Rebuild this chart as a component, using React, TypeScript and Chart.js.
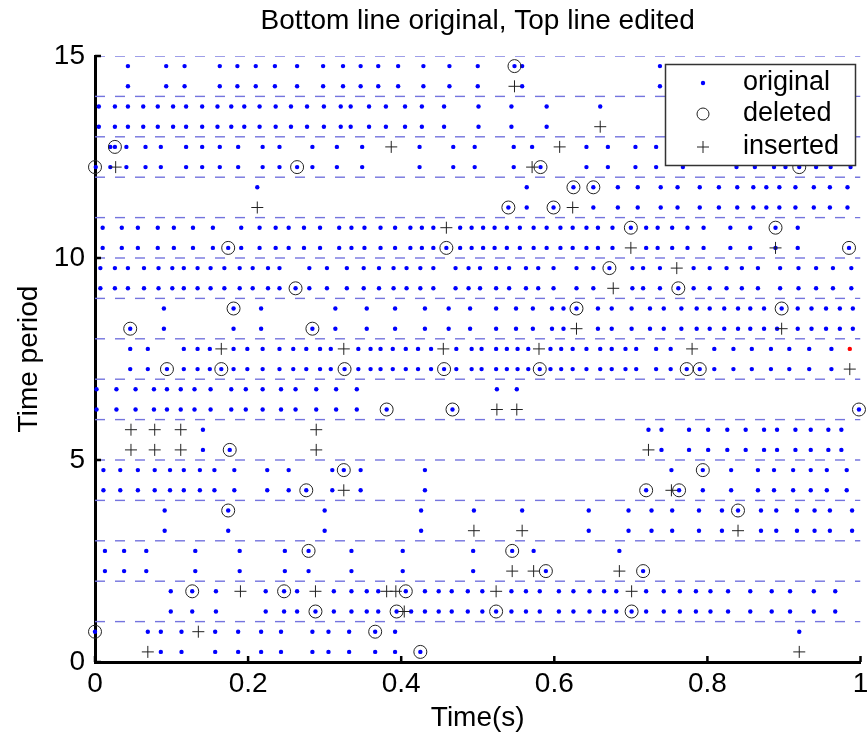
import React, { useEffect, useRef } from "react";
import { Chart, registerables } from "chart.js";

Chart.register(...registerables);

const FONT = "'Liberation Sans', Arial, Helvetica, sans-serif";

// ---- axes ----
const xTicks = [0, 0.2, 0.4, 0.6, 0.8, 1];
const xTickLabels = ["0", "0.2", "0.4", "0.6", "0.8", "1"];
const yTicks = [0, 5, 10, 15];
const yTickLabels = ["0", "5", "10", "15"];
const dashedLevels = [1, 2, 3, 4, 5, 6, 7, 8, 9, 10, 11, 12, 13, 14, 15];

// ---- original dots, one array per row (x in seconds) ----
const row1475 = [0.043,0.093,0.117,0.163,0.186,0.210,0.235,0.264,0.298,0.324,0.347,0.370,0.396,0.429,0.463,0.500,0.548,0.558,0.738];
const row1425 = [0.043,0.093,0.117,0.163,0.186,0.210,0.235,0.264,0.298,0.324,0.347,0.370,0.396,0.429,0.463,0.500,0.558,0.738];
const row1375 = [0.005,0.026,0.043,0.063,0.082,0.102,0.119,0.140,0.160,0.178,0.195,0.215,0.236,0.256,0.277,0.299,0.321,0.334,0.358,0.380,0.405,0.427,0.456,0.501,0.544,0.590,0.660];
const row1325 = [0.005,0.026,0.043,0.063,0.082,0.102,0.119,0.140,0.160,0.178,0.195,0.215,0.236,0.256,0.277,0.299,0.321,0.334,0.358,0.380,0.405,0.427,0.456,0.501,0.544,0.590];
const row1275 = [0.020,0.026,0.041,0.066,0.086,0.119,0.140,0.163,0.187,0.219,0.241,0.284,0.316,0.349,0.424,0.468,0.496,0.547,0.571,0.642,0.670,0.706,0.733];
const row1225 = [0.001,0.020,0.041,0.066,0.086,0.119,0.140,0.163,0.187,0.219,0.241,0.264,0.284,0.316,0.349,0.424,0.468,0.496,0.547,0.582,0.642,0.670,0.706,0.733,0.768,0.838,0.862,0.887,0.902,0.920,0.942,0.961,0.987];
const row1175 = [0.212,0.564,0.625,0.651,0.683,0.709,0.739,0.761,0.790,0.815,0.839,0.860,0.877,0.894,0.915,0.939,0.960,0.983];
const row1125 = [0.540,0.564,0.599,0.651,0.683,0.709,0.739,0.761,0.790,0.815,0.839,0.860,0.877,0.894,0.915,0.939,0.960,0.983];
const row1075 = [0.010,0.035,0.056,0.082,0.103,0.128,0.154,0.191,0.215,0.236,0.253,0.273,0.294,0.319,0.335,0.352,0.373,0.392,0.412,0.427,0.442,0.477,0.492,0.507,0.522,0.538,0.555,0.573,0.590,0.608,0.624,0.642,0.657,0.676,0.700,0.720,0.735,0.754,0.774,0.795,0.830,0.856,0.889,0.918];
const row1025 = [0.010,0.035,0.056,0.082,0.103,0.128,0.154,0.174,0.191,0.215,0.236,0.253,0.273,0.294,0.319,0.335,0.352,0.373,0.392,0.412,0.427,0.442,0.459,0.477,0.492,0.507,0.522,0.538,0.555,0.573,0.590,0.608,0.624,0.642,0.657,0.676,0.720,0.735,0.754,0.774,0.795,0.830,0.856,0.889,0.918,0.985];
const row975 = [0.007,0.026,0.043,0.064,0.083,0.101,0.116,0.134,0.151,0.169,0.189,0.206,0.226,0.241,0.280,0.303,0.329,0.351,0.371,0.390,0.407,0.425,0.442,0.471,0.488,0.503,0.524,0.541,0.563,0.579,0.599,0.629,0.651,0.672,0.702,0.716,0.738,0.782,0.803,0.825,0.845,0.866,0.895,0.919,0.942,0.964,0.988];
const row925 = [0.007,0.026,0.043,0.064,0.083,0.101,0.116,0.134,0.151,0.169,0.189,0.206,0.226,0.241,0.262,0.280,0.303,0.329,0.351,0.371,0.390,0.407,0.425,0.442,0.471,0.488,0.503,0.524,0.541,0.563,0.579,0.599,0.629,0.651,0.702,0.716,0.738,0.762,0.782,0.803,0.825,0.845,0.866,0.895,0.919,0.942,0.964,0.988];
const row875 = [0.090,0.181,0.217,0.314,0.355,0.392,0.431,0.462,0.490,0.524,0.550,0.572,0.597,0.612,0.629,0.657,0.675,0.701,0.725,0.743,0.766,0.786,0.803,0.822,0.840,0.856,0.874,0.897,0.918,0.936,0.955,0.973,0.990];
const row825 = [0.046,0.090,0.181,0.217,0.284,0.314,0.355,0.392,0.431,0.462,0.490,0.524,0.550,0.572,0.597,0.612,0.657,0.675,0.701,0.725,0.743,0.766,0.786,0.803,0.822,0.840,0.856,0.874,0.891,0.918,0.936,0.955,0.973,0.990];
const row775 = [0.046,0.069,0.116,0.134,0.150,0.181,0.199,0.219,0.241,0.259,0.276,0.294,0.308,0.344,0.360,0.373,0.389,0.406,0.422,0.439,0.472,0.492,0.505,0.524,0.538,0.552,0.566,0.595,0.609,0.624,0.642,0.660,0.675,0.693,0.707,0.733,0.752,0.809,0.834,0.858,0.883,0.907,0.933,0.962];
const row725 = [0.046,0.069,0.094,0.116,0.134,0.150,0.165,0.181,0.199,0.219,0.241,0.259,0.276,0.294,0.308,0.326,0.344,0.360,0.373,0.389,0.406,0.422,0.439,0.456,0.472,0.492,0.505,0.524,0.538,0.552,0.566,0.581,0.595,0.609,0.624,0.642,0.660,0.675,0.693,0.707,0.733,0.752,0.773,0.790,0.809,0.834,0.858,0.883,0.907,0.933,0.962];
const row675 = [0.002,0.028,0.053,0.077,0.094,0.112,0.130,0.151,0.178,0.197,0.219,0.243,0.262,0.289,0.315,0.342,0.525,0.551];
const row625 = [0.002,0.028,0.053,0.077,0.094,0.112,0.130,0.151,0.178,0.197,0.219,0.243,0.262,0.289,0.315,0.342,0.381,0.467,0.998];
const row575 = [0.141,0.723,0.740,0.776,0.801,0.826,0.850,0.874,0.891,0.915,0.935,0.958,0.975];
const row525 = [0.141,0.176,0.740,0.776,0.801,0.826,0.850,0.874,0.891,0.915,0.935,0.958,0.975];
const row475 = [0.011,0.033,0.056,0.078,0.098,0.116,0.137,0.156,0.182,0.225,0.253,0.310,0.325,0.347,0.431,0.753,0.794,0.831,0.866,0.887,0.912,0.935,0.956,0.982];
const row425 = [0.011,0.033,0.056,0.078,0.098,0.116,0.137,0.156,0.182,0.225,0.253,0.276,0.310,0.347,0.431,0.720,0.763,0.794,0.831,0.866,0.887,0.912,0.935,0.956,0.982];
const row375 = [0.091,0.174,0.300,0.426,0.495,0.558,0.645,0.697,0.727,0.754,0.789,0.819,0.840,0.870,0.890,0.917,0.940,0.960,0.989];
const row325 = [0.091,0.174,0.300,0.426,0.645,0.697,0.727,0.754,0.789,0.819,0.870,0.890,0.917,0.940,0.960,0.989];
const row275 = [0.013,0.038,0.067,0.131,0.189,0.248,0.279,0.335,0.402,0.494,0.545,0.573,0.685];
const row225 = [0.013,0.038,0.067,0.131,0.189,0.248,0.279,0.335,0.402,0.494,0.589,0.716];
const row175 = [0.099,0.127,0.158,0.223,0.247,0.264,0.312,0.335,0.355,0.370,0.406,0.431,0.449,0.466,0.487,0.506,0.544,0.563,0.581,0.606,0.625,0.646,0.665,0.681,0.720,0.743,0.764,0.785,0.804,0.827,0.856,0.884,0.908,0.939,0.967];
const row125 = [0.099,0.127,0.158,0.223,0.247,0.264,0.288,0.312,0.335,0.355,0.370,0.394,0.413,0.431,0.449,0.466,0.487,0.506,0.524,0.544,0.563,0.581,0.606,0.625,0.646,0.665,0.681,0.701,0.720,0.743,0.764,0.785,0.804,0.827,0.856,0.884,0.908,0.939,0.967];
const row075 = [0.000,0.069,0.086,0.113,0.157,0.187,0.217,0.243,0.284,0.305,0.332,0.366,0.392,0.920];
const row025 = [0.086,0.113,0.157,0.187,0.217,0.243,0.284,0.305,0.332,0.366,0.392,0.425];

const rowLevels = [14.75,14.25,13.75,13.25,12.75,12.25,11.75,11.25,10.75,10.25,9.75,9.25,8.75,8.25,7.75,7.25,6.75,6.25,5.75,5.25,4.75,4.25,3.75,3.25,2.75,2.25,1.75,1.25,0.75,0.25];
const rowValues = [row1475,row1425,row1375,row1325,row1275,row1225,row1175,row1125,row1075,row1025,row975,row925,row875,row825,row775,row725,row675,row625,row575,row525,row475,row425,row375,row325,row275,row225,row175,row125,row075,row025];

// ---- deleted (circles) and inserted (plus) markers: [time, period] ----
const deletedPts: [number, number][] = [
  [0.548,14.75],[0.026,12.75],[0,12.25],[0.264,12.25],[0.582,12.25],[0.920,12.25],
  [0.625,11.75],[0.651,11.75],[0.540,11.25],[0.599,11.25],[0.700,10.75],[0.889,10.75],
  [0.174,10.25],[0.459,10.25],[0.985,10.25],[0.672,9.75],[0.262,9.25],[0.762,9.25],
  [0.181,8.75],[0.629,8.75],[0.897,8.75],[0.046,8.25],[0.284,8.25],
  [0.094,7.25],[0.165,7.25],[0.326,7.25],[0.456,7.25],[0.581,7.25],[0.773,7.25],[0.790,7.25],
  [0.381,6.25],[0.467,6.25],[0.998,6.25],[0.176,5.25],[0.325,4.75],[0.794,4.75],
  [0.276,4.25],[0.720,4.25],[0.763,4.25],[0.174,3.75],[0.840,3.75],[0.279,2.75],[0.545,2.75],
  [0.589,2.25],[0.716,2.25],[0.127,1.75],[0.247,1.75],[0.406,1.75],
  [0.288,1.25],[0.394,1.25],[0.524,1.25],[0.701,1.25],[0,0.75],[0.366,0.75],[0.425,0.25],
];
const insertedPts: [number, number][] = [
  [0.548,14.25],[0.660,13.25],[0.387,12.75],[0.607,12.75],[0.027,12.25],[0.571,12.25],
  [0.212,11.25],[0.624,11.25],[0.459,10.75],[0.700,10.25],[0.889,10.25],[0.760,9.75],[0.677,9.25],
  [0.629,8.25],[0.897,8.25],[0.165,7.75],[0.325,7.75],[0.455,7.75],[0.580,7.75],[0.780,7.75],
  [0.986,7.25],[0.525,6.25],[0.551,6.25],
  [0.047,5.75],[0.078,5.75],[0.112,5.75],[0.289,5.75],
  [0.047,5.25],[0.078,5.25],[0.112,5.25],[0.289,5.25],[0.723,5.25],
  [0.325,4.25],[0.753,4.25],[0.495,3.25],[0.558,3.25],[0.840,3.25],
  [0.545,2.25],[0.573,2.25],[0.685,2.25],
  [0.190,1.75],[0.288,1.75],[0.381,1.75],[0.393,1.75],[0.524,1.75],[0.701,1.75],
  [0.404,1.25],[0.135,0.75],[0.069,0.25],[0.920,0.25],
];
const flaggedPts: [number, number][] = [[0.986, 7.75]];

const legendItems = ["original", "deleted", "inserted"];

const inwardTicks = {
  id: "inwardTicks",
  afterDatasetsDraw(chart: any) {
    const { ctx, chartArea, scales } = chart;
    ctx.save();
    ctx.strokeStyle = "#000";
    ctx.lineWidth = 2.5;
    ctx.beginPath();
    for (const v of xTicks) {
      const px = scales.x.getPixelForValue(v);
      ctx.moveTo(px, chartArea.bottom);
      ctx.lineTo(px, chartArea.bottom - 6);
    }
    for (const v of yTicks) {
      const py = scales.y.getPixelForValue(v);
      ctx.moveTo(chartArea.left, py);
      ctx.lineTo(chartArea.left + 6, py);
    }
    ctx.stroke();
    ctx.restore();
  },
};

const titlePlugin = {
  id: "plotTitle",
  afterDraw(chart: any) {
    const { ctx, chartArea } = chart;
    ctx.save();
    ctx.fillStyle = "#000";
    ctx.font = `28px ${FONT}`;
    ctx.textAlign = "center";
    ctx.textBaseline = "middle";
    ctx.fillText("Bottom line original, Top line edited", (chartArea.left + chartArea.right) / 2, 21);
    ctx.restore();
  },
};

const boxLegend = {
  id: "boxLegend",
  afterDraw(chart: any) {
    const { ctx } = chart;
    const left = 665.5, top = 64.5, w = 190, h = 101;
    ctx.save();
    ctx.fillStyle = "#fff";
    ctx.fillRect(left, top, w, h);
    ctx.strokeStyle = "#333";
    ctx.lineWidth = 1.5;
    ctx.strokeRect(left, top, w, h);
    const mx = 703;
    const rowsY = [83, 114, 147];
    ctx.fillStyle = "#0000ff";
    ctx.beginPath();
    ctx.arc(mx, rowsY[0], 2.2, 0, Math.PI * 2);
    ctx.fill();
    ctx.strokeStyle = "#222";
    ctx.lineWidth = 1;
    ctx.beginPath();
    ctx.arc(mx, rowsY[1], 6, 0, Math.PI * 2);
    ctx.stroke();
    ctx.beginPath();
    ctx.moveTo(mx - 6, rowsY[2]);
    ctx.lineTo(mx + 6, rowsY[2]);
    ctx.moveTo(mx, rowsY[2] - 6);
    ctx.lineTo(mx, rowsY[2] + 6);
    ctx.stroke();
    ctx.fillStyle = "#000";
    ctx.font = `27px ${FONT}`;
    ctx.textAlign = "left";
    ctx.textBaseline = "middle";
    legendItems.forEach((t, i) => ctx.fillText(t, 743, rowsY[i]));
    ctx.restore();
  },
};

export default function App() {
  const ref = useRef<HTMLCanvasElement>(null);
  useEffect(() => {
    document.body.style.margin = "0";
    const canvas = ref.current!;
    const dotData: { x: number; y: number }[] = [];
    rowValues.forEach((xs, i) => xs.forEach((x) => dotData.push({ x, y: rowLevels[i] })));

    const dashSets = dashedLevels.map((lv) => ({
      type: "scatter" as const,
      data: [{ x: 0, y: lv }, { x: 1, y: lv }],
      showLine: true,
      borderColor: "#7474de",
      borderWidth: 1.4,
      borderDash: [10, 10],
      pointRadius: 0,
      order: 10,
    }));

    const chart = new Chart(canvas, {
      type: "scatter",
      data: {
        datasets: [
          ...dashSets,
          {
            data: dotData,
            pointStyle: "circle",
            pointRadius: 2.2,
            pointBackgroundColor: "#0000ff",
            pointBorderWidth: 0,
            clip: false,
            order: 3,
          },
          {
            data: flaggedPts.map(([x, y]) => ({ x, y })),
            pointStyle: "circle",
            pointRadius: 2.2,
            pointBackgroundColor: "#ff0000",
            pointBorderWidth: 0,
            clip: false,
            order: 2,
          },
          {
            data: deletedPts.map(([x, y]) => ({ x, y })),
            pointStyle: "circle",
            pointRadius: 6.5,
            pointBackgroundColor: "rgba(0,0,0,0)",
            pointBorderColor: "#222",
            pointBorderWidth: 1,
            clip: false,
            order: 1,
          },
          {
            data: insertedPts.map(([x, y]) => ({ x, y })),
            pointStyle: "cross",
            pointRadius: 6,
            pointBorderColor: "#222",
            pointBorderWidth: 1,
            clip: false,
            order: 0,
          },
        ] as any,
      },
      options: {
        responsive: false,
        animation: false,
        devicePixelRatio: 1,
        events: [],
        layout: { padding: { top: 56, right: 4, left: 0, bottom: 0 } },
        plugins: { legend: { display: false }, tooltip: { enabled: false }, title: { display: false } },
        scales: {
          x: {
            type: "linear",
            min: 0,
            max: 1,
            afterBuildTicks: (s: any) => {
              s.ticks = xTicks.map((v) => ({ value: v }));
            },
            afterFit: (s: any) => {
              s.height = 84;
              s.paddingLeft = 0;
              s.paddingRight = 0;
            },
            ticks: {
              autoSkip: false,
              maxRotation: 0,
              padding: 5,
              color: "#000",
              font: { family: FONT, size: 28 },
              callback: (v: any) => {
                const i = xTicks.findIndex((t) => Math.abs(t - v) < 1e-9);
                return i >= 0 ? xTickLabels[i] : "";
              },
            },
            grid: { display: false, drawTicks: false },
            border: { display: true, color: "#000", width: 3 },
            title: {
              display: true,
              text: "Time(s)",
              color: "#000",
              font: { family: FONT, size: 28 },
              padding: { top: 0, bottom: 11 },
            },
          },
          y: {
            type: "linear",
            min: 0,
            max: 15,
            afterBuildTicks: (s: any) => {
              s.ticks = yTicks.map((v) => ({ value: v }));
            },
            afterFit: (s: any) => {
              s.width = 95;
              s.paddingTop = 0;
              s.paddingBottom = 0;
            },
            ticks: {
              autoSkip: false,
              padding: 10,
              color: "#000",
              font: { family: FONT, size: 28 },
              callback: (v: any) => {
                const i = yTicks.findIndex((t) => Math.abs(t - v) < 1e-9);
                return i >= 0 ? yTickLabels[i] : "";
              },
            },
            grid: { display: false, drawTicks: false },
            border: { display: true, color: "#000", width: 3 },
            title: {
              display: true,
              text: "Time period",
              color: "#000",
              font: { family: FONT, size: 28 },
              padding: { top: 12, bottom: 0 },
            },
          },
        },
      },
      plugins: [inwardTicks, titlePlugin, boxLegend],
    } as any);
    return () => chart.destroy();
  }, []);
  return (
    <canvas
      ref={ref}
      width={868}
      height={746}
      style={{ display: "block", width: "868px", height: "746px" }}
    />
  );
}
